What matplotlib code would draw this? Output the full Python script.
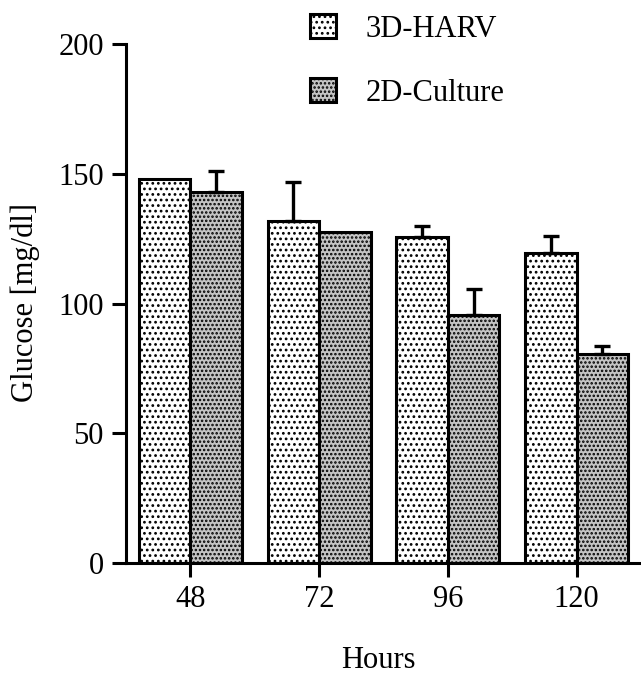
import numpy as np
import matplotlib
matplotlib.use("Agg")
import matplotlib.pyplot as plt

# Data
hours = ["48", "72", "96", "120"]
harv_3d = [148, 132, 125.5, 119.5]
harv_3d_err = [0, 15, 4.5, 6.5]
culture_2d = [143, 127.5, 95.5, 80.5]
culture_2d_err = [8, 0, 10, 3]

plt.rcParams.update({
    'font.family': 'serif',
    'font.serif': ['Liberation Serif', 'DejaVu Serif'],
    'font.size': 22,
    'hatch.linewidth': 1.2,
})

fig = plt.figure(figsize=(6.41, 6.8), dpi=100)
ax = fig.add_axes([0.1966, 0.172, 0.8034, 0.763])

x = np.arange(len(hours))
w = 0.40

b1 = ax.bar(x - w / 2, harv_3d, w, facecolor='white', edgecolor='black',
            linewidth=2.2, hatch='...', label='3D-HARV', zorder=2)
b2 = ax.bar(x + w / 2, culture_2d, w, facecolor='#c4c4c4', edgecolor='black',
            linewidth=2.2, hatch='....', label='2D-Culture', zorder=2)

# upper-only error bars, skip where no error shown
for offs, vals, errs in [(-w / 2, harv_3d, harv_3d_err), (w / 2, culture_2d, culture_2d_err)]:
    vals = np.array(vals)
    errs = np.array(errs)
    m = errs > 0
    ax.errorbar(x[m] + offs, vals[m], yerr=[np.zeros(m.sum()), errs[m]],
                fmt='none', ecolor='black', elinewidth=2.4, capsize=6,
                capthick=2.4, zorder=3)

ax.set_xlim(-0.5, 3.5)
ax.set_ylim(0, 200)
ax.set_xticks(x)
ax.set_xticklabels(hours)
ax.set_yticks([0, 50, 100, 150, 200])

for s in ['top', 'right']:
    ax.spines[s].set_visible(False)
for s in ['left', 'bottom']:
    ax.spines[s].set_linewidth(2.2)
ax.tick_params(axis='both', direction='out', length=10, width=2.2, pad=6)

fig.text(0.04, 0.555, 'Glucose [mg/dl]', rotation=90, ha='center', va='center')
fig.text(0.59, 1 - 660 / 680, 'Hours', ha='center', va='center')

leg = fig.legend(handles=[b1, b2], loc='upper left', bbox_to_anchor=(0.441, 1.02),
                 frameon=False, handlelength=0.85, handleheight=0.85,
                 labelspacing=1.12, handletextpad=0.95)

fig.savefig('out.png', dpi=100)
